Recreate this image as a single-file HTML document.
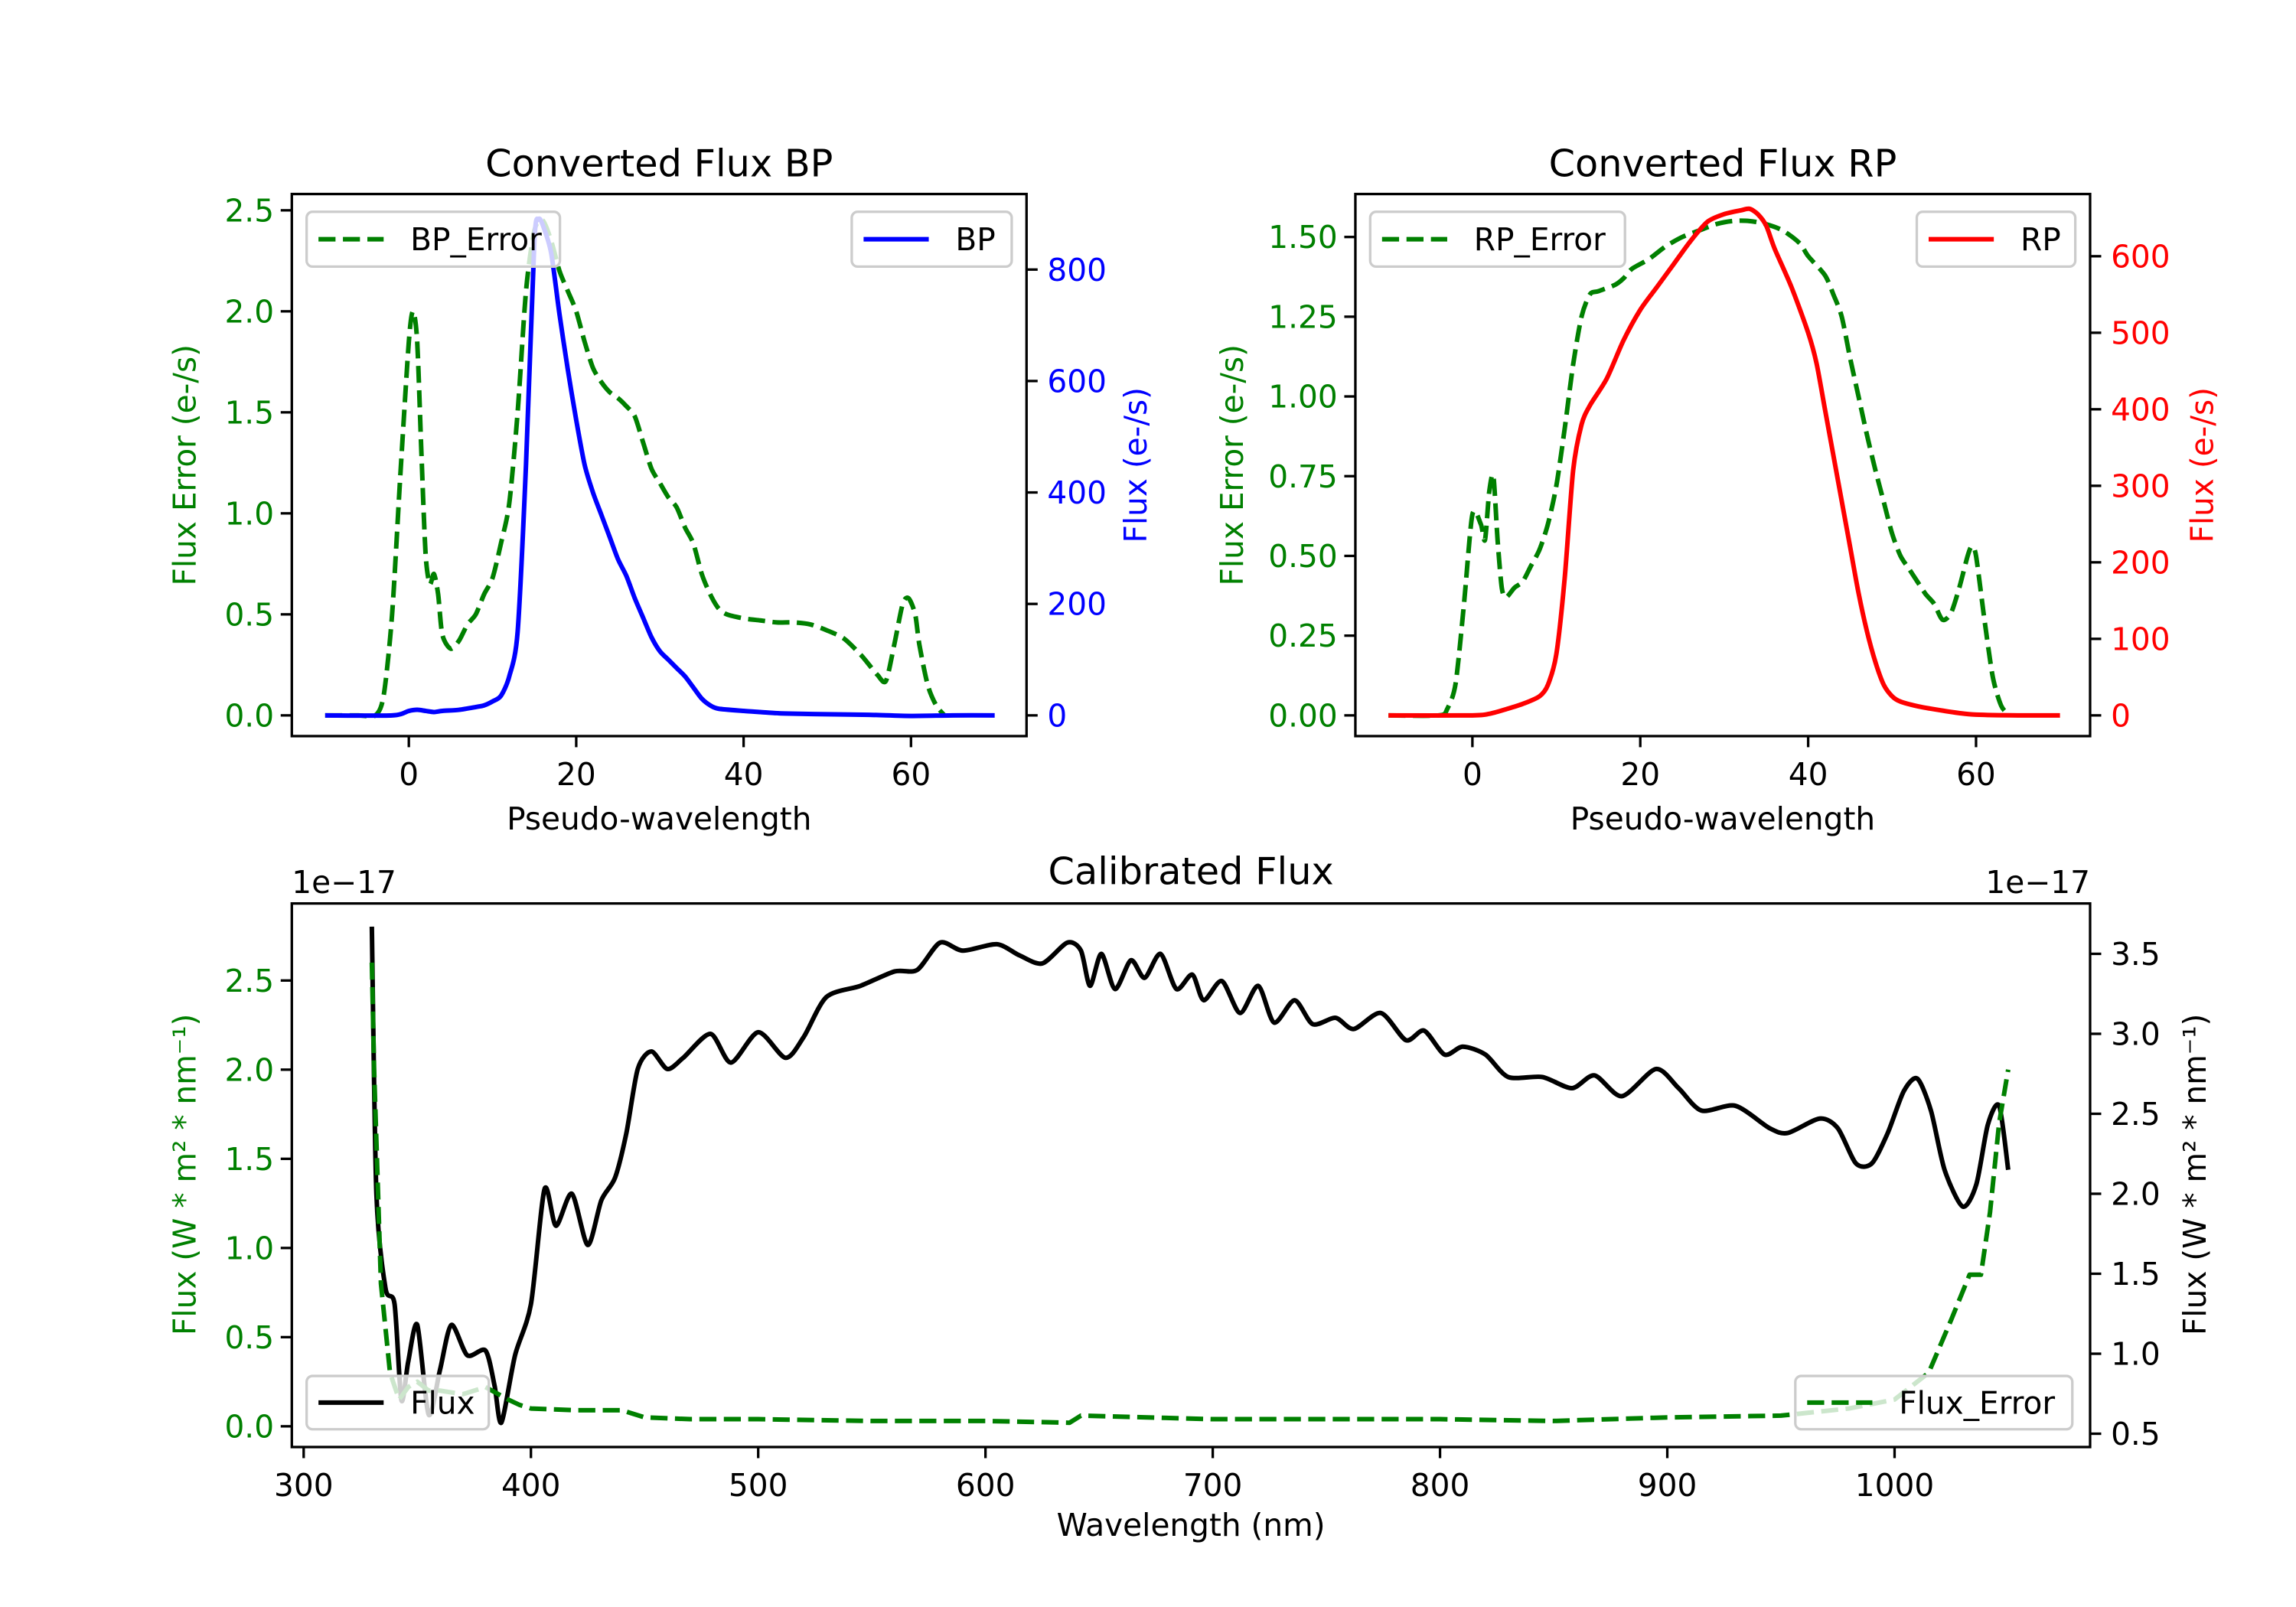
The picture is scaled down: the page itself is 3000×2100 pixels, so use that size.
<!DOCTYPE html>
<html><head><meta charset="utf-8"><style>
html,body{margin:0;padding:0;background:#fff}
svg{display:block;font-family:"DejaVu Sans","Liberation Sans",sans-serif}
</style></head><body>
<svg id="fig" width="3000" height="2100" viewBox="0 0 1550 1085" xmlns="http://www.w3.org/2000/svg">
<rect width="1550" height="1085" fill="#fff"/>
</svg>
<script>
const bpX=[-10,-6,-4,-3,-2,-1,0,0.5,1,1.5,2,2.5,3,3.5,4,5,6,7,8,9,10,11,12,13,14,15,16,17,18,19,20,21,22,23,24,25,26,27,28,29,30,31,32,33,34,35,36,37,38,40,42,44,46,48,50,52,54,55,56,57,58,59,59.7,60.5,61,62,63,64];
const bpErr=[0,0,0,0.1,0.5,1.2,1.85,2.0,1.85,1.3,0.8,0.65,0.7,0.6,0.4,0.33,0.37,0.45,0.5,0.6,0.68,0.85,1.05,1.5,2.1,2.4,2.45,2.35,2.2,2.1,2.0,1.85,1.72,1.65,1.6,1.57,1.53,1.48,1.35,1.22,1.15,1.08,1.03,0.93,0.85,0.7,0.6,0.53,0.5,0.48,0.47,0.46,0.46,0.45,0.42,0.38,0.3,0.25,0.2,0.17,0.35,0.55,0.58,0.5,0.35,0.15,0.05,0];
const bpFX=[-10,-2,0,1,2,3,4,6,8,9,10,11,12,13,14,15,15.5,16,17,18,19,20,21,22,23,24,25,26,27,28,29,30,31,32,33,34,35,36,37,40,42,44,46,50,55,60,65,70];
const bpFlux=[0,0,8,10,8,6,8,10,15,18,25,35,70,150,450,850,890,880,830,720,620,530,450,400,360,320,280,250,210,175,140,115,100,85,70,50,30,18,12,8,6,4,3,2,1,-1,0,0];
const rpX=[-10,-4,-3,-2,-1,0,1,1.5,2,2.5,3,3.5,4,5,6,7,8,9,10,11,12,13,14,15,17,18,19,21,23,25,27,29,31,33,35,37,39,40,42,43,44,45,46,47,48,49,50,51,52,53,54,55,56,57,58,59,59.5,60,61,62,63,64];
const rpErr=[0,0,0.02,0.1,0.35,0.63,0.6,0.55,0.7,0.75,0.55,0.4,0.37,0.4,0.42,0.47,0.52,0.6,0.72,0.9,1.1,1.25,1.32,1.33,1.35,1.37,1.4,1.43,1.47,1.5,1.52,1.54,1.55,1.55,1.54,1.52,1.48,1.44,1.38,1.32,1.25,1.12,1.0,0.88,0.77,0.67,0.57,0.5,0.46,0.42,0.38,0.35,0.3,0.32,0.4,0.5,0.53,0.5,0.3,0.12,0.03,0];
const rpFX=[-10,0,2,4,6,8,9,10,11,12,13,14,16,18,20,22,24,26,28,30,32,33,34,35,36,38,40,41,42,43,44,45,46,47,48,49,50,51,53,55,58,60,65,70];
const rpFlux=[0,0,2,8,15,25,40,80,180,320,380,405,440,490,530,560,590,620,645,655,660,662,655,640,610,560,500,460,400,340,280,220,160,110,70,40,25,18,12,8,3,1,0,0];
const wl=[330,332,336,340,343,346,350,355,360,365,372,380,384,387,393,400,406,411,418,425,431,437,442,447,453,460,467,479,488,500,512,520,530,545,560,570,580,590,605,615,625,636,642,646,651,657,664,670,677,684,691,696,704,712,720,727,736,744,754,762,774,785,793,802,810,820,830,845,858,868,880,895,905,915,930,945,953,967,975,983,990,997,1004,1010,1016,1022,1030,1036,1041,1046,1050];
const calFlux=[3.67,2.0,1.41,1.31,0.71,0.95,1.18,0.62,0.9,1.18,0.99,1.02,0.8,0.57,0.99,1.31,2.03,1.8,2.0,1.68,1.96,2.1,2.38,2.78,2.89,2.78,2.85,3.0,2.82,3.01,2.85,2.98,3.23,3.3,3.39,3.4,3.57,3.52,3.56,3.49,3.44,3.57,3.52,3.3,3.5,3.28,3.46,3.35,3.5,3.28,3.37,3.21,3.33,3.13,3.3,3.07,3.21,3.06,3.1,3.03,3.13,2.96,3.02,2.87,2.92,2.87,2.73,2.73,2.66,2.74,2.61,2.78,2.66,2.52,2.55,2.41,2.38,2.47,2.41,2.19,2.19,2.38,2.64,2.72,2.52,2.15,1.92,2.06,2.43,2.55,2.15];
const wlErr=[330,331,334,338,342,346,350,355,360,370,380,390,395,400,420,440,450,470,500,550,600,637,642,700,800,850,900,950,980,1000,1015,1025,1033,1038,1042,1046,1050];
const calErr=[2.6,2.0,0.8,0.3,0.15,0.22,0.25,0.2,0.2,0.18,0.22,0.15,0.12,0.1,0.09,0.09,0.05,0.04,0.04,0.03,0.03,0.02,0.06,0.04,0.04,0.03,0.05,0.06,0.1,0.15,0.3,0.6,0.85,0.85,1.2,1.7,2.0];
const bpLTicks=[0,0.5,1,1.5,2,2.5], bpLLab=["0.0","0.5","1.0","1.5","2.0","2.5"];
const bpRTicks=[0,200,400,600,800];
const pxTicks=[0,20,40,60];
const rpLTicks=[0,0.25,0.5,0.75,1,1.25,1.5], rpLLab=["0.00","0.25","0.50","0.75","1.00","1.25","1.50"];
const rpRTicks=[0,100,200,300,400,500,600];
const wlTicks=[300,400,500,600,700,800,900,1000];
const calLTicks=[0,0.5,1,1.5,2,2.5], calLLab=["0.0","0.5","1.0","1.5","2.0","2.5"];
const calRTicks=[0.5,1,1.5,2,2.5,3,3.5], calRLab=["0.5","1.0","1.5","2.0","2.5","3.0","3.5"];

const NS="http://www.w3.org/2000/svg", svg=document.getElementById('fig');
const FS=21, TS=25.5, LW=3.1, DASH='11.5 5';
function mk(tag,attrs,parent){const e=document.createElementNS(NS,tag);for(const k in attrs)e.setAttribute(k,attrs[k]);(parent||svg).appendChild(e);return e;}
function txt(s,x,y,size,color,anchor,rot,name){const t=mk('text',{x:x,y:y,'font-size':size,fill:color,'text-anchor':anchor||'middle'});if(rot)t.setAttribute('transform','rotate('+rot+' '+x+' '+y+')');t.textContent=s;


return t;}
function lin(d0,d1,p0,p1){return v=>p0+(v-d0)*(p1-p0)/(d1-d0);}
function line(xs,ys,fx,fy,color,dash,w,name,smooth){const P=xs.map((x,i)=>[fx(x),fy(ys[i])]);let d='M'+P[0][0].toFixed(2)+' '+P[0][1].toFixed(2);
for(let i=1;i<P.length;i++){if(smooth){const p0=P[Math.max(0,i-2)],p1=P[i-1],p2=P[i],p3=P[Math.min(P.length-1,i+1)];const k=1/6*0.8;
d+='C'+(p1[0]+(p2[0]-p0[0])*k).toFixed(2)+' '+(p1[1]+(p2[1]-p0[1])*k).toFixed(2)+' '+(p2[0]-(p3[0]-p1[0])*k).toFixed(2)+' '+(p2[1]-(p3[1]-p1[1])*k).toFixed(2)+' '+p2[0].toFixed(2)+' '+p2[1].toFixed(2);}
else d+='L'+P[i][0].toFixed(2)+' '+P[i][1].toFixed(2);}
const p=mk('path',{d:d,fill:'none',stroke:color,'stroke-width':w||LW,'stroke-linejoin':'round'});if(dash)p.setAttribute('stroke-dasharray',dash);


return p;}
function frame(x0,y0,x1,y1,name){const r=mk('rect',{x:x0,y:y0,width:x1-x0,height:y1-y0,fill:'none',stroke:'#000','stroke-width':1.7});

}
function xticks(vals,labs,fx,yb){vals.forEach((v,i)=>{mk('line',{x1:fx(v),x2:fx(v),y1:yb,y2:yb+7.5,stroke:'#000','stroke-width':1.7});txt(labs?labs[i]:String(v),fx(v),yb+33,FS,'#000','middle',0,'x-tick-label');});}
function yticks(vals,labs,fy,x,side,color){vals.forEach((v,i)=>{const s=side<0?-7.5:7.5;mk('line',{x1:x,x2:x+s,y1:fy(v),y2:fy(v),stroke:'#000','stroke-width':1.7});txt(labs?labs[i]:String(v),side<0?x-12:x+14,fy(v)+7.5,FS,color,side<0?'end':'start',0,side<0?'left-y-tick-label':'right-y-tick-label');});}
function legend(x0,y0,x1,y1,label,color,dash,name){const g=mk('g',{});


mk('rect',{x:x0,y:y0,width:x1-x0,height:y1-y0,rx:4,fill:'#fff','fill-opacity':0.8,stroke:'#ccc','stroke-width':1.7},g);
const l=mk('line',{x1:x0+8,x2:x0+52,y1:(y0+y1)/2,y2:(y0+y1)/2,stroke:color,'stroke-width':LW},g);if(dash)l.setAttribute('stroke-dasharray',DASH);
const t=mk('text',{x:x0+70,y:(y0+y1)/2+7.5,'font-size':FS,fill:'#000'},g);t.textContent=label;}
const G='#008000';
// BP panel
{const fx=lin(0,60,276,615),fyL=lin(0,2.5,483,142),fyR=lin(0,800,483,182);
line(bpX,bpErr,fx,fyL,G,DASH,LW,'bp-error-line',true);line(bpFX,bpFlux,fx,fyR,'#0000ff',null,LW,'bp-flux-line',true);
frame(197,131,693,497,'bp-axes');xticks(pxTicks,null,fx,497);yticks(bpLTicks,bpLLab,fyL,197,-1,G);yticks(bpRTicks,null,fyR,693,1,'#0000ff');
txt('Converted Flux BP',445,119,TS,'#000','middle',0,'bp-title');txt('Pseudo-wavelength',445,560,FS,'#000','middle',0,'bp-x-axis-title');
txt('Flux Error (e-/s)',132,314,FS,G,'middle',-90,'bp-left-y-axis-title');txt('Flux (e-/s)',774,314,FS,'#0000ff','middle',-90,'bp-right-y-axis-title');
legend(207,143,378,180,'BP_Error',G,DASH,'bp-error-legend');legend(575,143,683,180,'BP','#0000ff',null,'bp-legend');}
// RP panel
{const fx=lin(0,60,994,1334),fyL=lin(0,1.5,483,160),fyR=lin(0,600,483,173);
line(rpX,rpErr,fx,fyL,G,DASH,LW,'rp-error-line',true);line(rpFX,rpFlux,fx,fyR,'#ff0000',null,LW,'rp-flux-line',true);
frame(915,131,1411,497,'rp-axes');xticks(pxTicks,null,fx,497);yticks(rpLTicks,rpLLab,fyL,915,-1,G);yticks(rpRTicks,null,fyR,1411,1,'#ff0000');
txt('Converted Flux RP',1163,119,TS,'#000','middle',0,'rp-title');txt('Pseudo-wavelength',1163,560,FS,'#000','middle',0,'rp-x-axis-title');
txt('Flux Error (e-/s)',839,314,FS,G,'middle',-90,'rp-left-y-axis-title');txt('Flux (e-/s)',1494,314,FS,'#ff0000','middle',-90,'rp-right-y-axis-title');
legend(925,143,1097,180,'RP_Error',G,DASH,'rp-error-legend');legend(1294,143,1401,180,'RP','#ff0000',null,'rp-legend');}
// Calibrated
{const fx=lin(300,1000,205,1279),fyL=lin(0,2.5,963,662),fyR=lin(0.5,3.5,968,644);
line(wl,calFlux,fx,fyR,'#000',null,LW,'calibrated-flux-line',true);line(wlErr,calErr,fx,fyL,G,DASH,LW,'calibrated-flux-error-line',false);
frame(197,610,1411,977,'calibrated-axes');xticks(wlTicks,null,fx,977);yticks(calLTicks,calLLab,fyL,197,-1,G);yticks(calRTicks,calRLab,fyR,1411,1,'#000');
txt('Calibrated Flux',804,597,TS,'#000','middle',0,'calibrated-title');txt('Wavelength (nm)',804,1037,FS,'#000','middle',0,'calibrated-x-axis-title');
txt('1e\u221217',197,603,FS,'#000','start',0,'left-offset-label');txt('1e\u221217',1411,603,FS,'#000','end',0,'right-offset-label');
txt('Flux (W * m\u00b2 * nm\u207b\u00b9)',132,793,FS,G,'middle',-90,'calibrated-left-y-axis-title');txt('Flux (W * m\u00b2 * nm\u207b\u00b9)',1489,793,FS,'#000','middle',-90,'calibrated-right-y-axis-title');
legend(207,929,330,965,'Flux','#000',null,'flux-legend');legend(1212,929,1399,965,'Flux_Error',G,DASH,'flux-error-legend');}
</script>
</body></html>
